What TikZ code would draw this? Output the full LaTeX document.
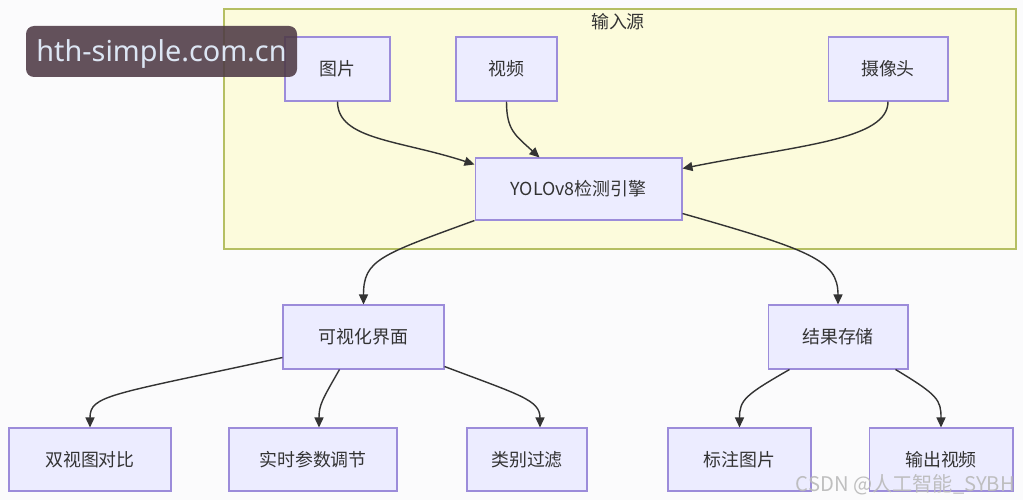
\documentclass[tikz,border=0pt]{standalone}
\usepackage{fontspec}
\setmainfont{Noto Sans CJK SC}
\newfontfamily\wmfont{Noto Sans}
\usetikzlibrary{arrows.meta,calc}
\definecolor{nodefill}{HTML}{ECECFF}
\definecolor{nodeline}{HTML}{9C8CDA}
\definecolor{clusterfill}{HTML}{FCFBDC}
\definecolor{clusterline}{HTML}{B5BF62}
\definecolor{edgecol}{HTML}{333333}
\definecolor{txtcol}{HTML}{333333}
\definecolor{wmfill}{HTML}{4E3A45}
\definecolor{wmtext}{HTML}{DCE6F4}
\definecolor{pagebg}{HTML}{FBFBFC}
\tikzset{
  box/.style={draw=nodeline, fill=nodefill, line width=0.6pt, inner sep=0pt,
    minimum height=1.28cm, text=txtcol, font=\fontsize{10.2}{12}\selectfont},
  conn/.style={draw=edgecol, line width=0.8pt,
    -{Triangle[length=0.2cm,width=0.18cm]}},
}
\begin{document}
\begin{tikzpicture}[x=0.02cm,y=-0.02cm]
\fill[pagebg] (0,0) rectangle (1023,500);
\useasboundingbox (0,0) rectangle (1023,500);
% cluster
\draw[fill=clusterfill, draw=clusterline, line width=0.7pt] (224,9) rectangle (1016,249);
\node[text=txtcol, font=\fontsize{10.2}{12}\selectfont] (srctitle) at (618,22) {输入源};
% nodes
\node[box, minimum width=2.10cm] (img) at (337.5,69) {图片};
\node[box, minimum width=2.02cm] (vid) at (506.5,69) {视频};
\node[box, minimum width=2.40cm] (cam) at (888,69) {摄像头};
\node[box, minimum width=4.14cm, minimum height=1.24cm] (yolo) at (578.5,189) {YOLOv8检测引擎};
\node[box, minimum width=3.22cm] (vis) at (363.5,337) {可视化界面};
\node[box, minimum width=2.80cm] (store) at (838,337) {结果存储};
\node[box, minimum width=3.24cm, minimum height=1.26cm] (dual) at (90,459.5) {双视图对比};
\node[box, minimum width=3.36cm, minimum height=1.26cm] (param) at (313,459.5) {实时参数调节};
\node[box, minimum width=2.40cm, minimum height=1.26cm] (filt) at (527,459.5) {类别过滤};
\node[box, minimum width=2.86cm, minimum height=1.26cm] (mark) at (739.5,459.5) {标注图片};
\node[box, minimum width=2.88cm, minimum height=1.26cm] (out) at (941,459.5) {输出视频};
% connectors
\draw[conn] (img.south) .. controls (337.5,140) and (400,140) .. ($(yolo.north west)+(0,7)$);
\draw[conn] (vid.south) .. controls (506.5,130) and (515,135) .. ($(yolo.north west)+(65,0)$);
\draw[conn] (cam.south) .. controls (888,140) and (800,145) .. ($(yolo.north east)+(0,11)$);
\draw[conn] (yolo.south west) .. controls (380,255) and (363.5,260) .. (vis.north);
\draw[conn] ($(yolo.south east)+(0,-7)$) .. controls (810,250) and (838,260) .. (store.north);
\draw[conn] ($(vis.south west)+(0,-12)$) .. controls (110,395) and (90,395) .. (dual.north);
\draw[conn] ($(vis.south west)+(57,0)$) .. controls (322,400) and (319,405) .. ($(param.north)+(6,0)$);
\draw[conn] ($(vis.south east)+(0,-3)$) .. controls (520,395) and (540,400) .. ($(filt.north)+(13,0)$);
\draw[conn] ($(store.south west)+(22,0)$) .. controls (745,395) and (739.5,400) .. (mark.north);
\draw[conn] ($(store.south east)+(-13,0)$) .. controls (938,395) and (941,400) .. (out.north);
% watermarks
\fill[wmfill, opacity=0.88, rounded corners=0.16cm] (26,26) rectangle (297,77);
\node[text=wmtext, font=\wmfont\fontsize{16.4}{19}\selectfont, anchor=center] (wm) at (161.5,54) {hth-simple.com.cn};
\node[text=gray!55, opacity=0.9, font=\fontsize{11.5}{13}\selectfont, anchor=east] (csdn) at (1021,485) {CSDN @人工智能\_SYBH};
\end{tikzpicture}
\end{document}
